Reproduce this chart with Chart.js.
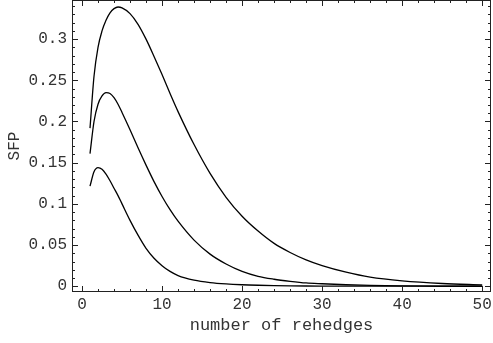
<!DOCTYPE html>
<html>
<head>
<meta charset="utf-8">
<script src="https://cdn.jsdelivr.net/npm/chart.js@4.4.1/dist/chart.umd.min.js"></script>
<style>
  body { margin: 0; background: #fff; }
  #wrap { width: 493px; height: 343px; }
</style>
</head>
<body>
<div id="wrap"><canvas id="sfpChart" width="493" height="343"></canvas></div>
<script>
// number of rehedges (x) and SFP
const rehedges = [1, 1.5, 2, 2.5, 3, 3.5, 4, 4.5, 5, 6, 7, 8, 9, 10, 11, 12, 14, 16, 18, 20, 22, 24, 26, 28, 30, 33, 36, 40, 45, 50];
const sfpHigh = [0.192, 0.255, 0.290, 0.310, 0.323, 0.332, 0.337, 0.339, 0.338, 0.331, 0.318, 0.300, 0.279, 0.257, 0.234, 0.212, 0.172, 0.137, 0.108, 0.085, 0.067, 0.052, 0.041, 0.032, 0.025, 0.017, 0.011, 0.0065, 0.0033, 0.0016];
const sfpMid = [0.161, 0.200, 0.221, 0.231, 0.235, 0.234, 0.229, 0.221, 0.211, 0.190, 0.168, 0.147, 0.127, 0.109, 0.093, 0.079, 0.056, 0.039, 0.027, 0.018, 0.012, 0.0085, 0.006, 0.004, 0.003, 0.0018, 0.001, 0.0005, 0.0002, 0.0001];
const sfpLow = [0.1215, 0.139, 0.144, 0.142, 0.136, 0.128, 0.119, 0.110, 0.100, 0.080, 0.062, 0.046, 0.034, 0.025, 0.018, 0.013, 0.0075, 0.0045, 0.0028, 0.0018, 0.0012, 0.0008, 0.0005, 0.0003, 0.0002, 0.0001, 0.00005, 0.00002, 0.00001, 0];

const xTicks = [0, 10, 20, 30, 40, 50];
const xTickLabels = ['0', '10', '20', '30', '40', '50'];
const yTicks = [0, 0.05, 0.1, 0.15, 0.2, 0.25, 0.3];
const yTickLabels = ['0', '0.05', '0.1', '0.15', '0.2', '0.25', '0.3'];

const monoFont = '"Liberation Mono", "Courier New", monospace';
const inkColor = '#222';

const toPoints = (vals) => rehedges.map((x, i) => ({ x: x, y: vals[i] }));

// Mathematica style frame with inward ticks on all four sides
const frameTicks = {
    id: 'frameTicks',
    afterDatasetsDraw(chart) {
        const { ctx, chartArea: a, scales: { x, y } } = chart;
        ctx.save();
        ctx.strokeStyle = inkColor;
        ctx.lineWidth = 1;
        ctx.beginPath();
        for (let i = 0; i <= 50; i += 2) {
            const px = Math.round(x.getPixelForValue(i)) + 0.5;
            const len = i % 10 === 0 ? 6 : 3;
            ctx.moveTo(px, a.bottom); ctx.lineTo(px, a.bottom - len);
            ctx.moveTo(px, a.top); ctx.lineTo(px, a.top + len);
        }
        for (let i = 0; i <= 34; i++) {
            const py = Math.round(y.getPixelForValue(i / 100)) + 0.5;
            const len = i % 5 === 0 ? 6 : 3;
            ctx.moveTo(a.left, py); ctx.lineTo(a.left + len, py);
            ctx.moveTo(a.right, py); ctx.lineTo(a.right - len, py);
        }
        ctx.stroke();
        ctx.strokeRect(a.left + 0.5, a.top + 0.5, a.width - 1, a.height - 1);
        ctx.restore();
    }
};

const lineStyle = {
    borderColor: '#000',
    borderWidth: 1.3,
    pointRadius: 0,
    fill: false,
    cubicInterpolationMode: 'monotone'
};

const ctx = document.getElementById('sfpChart').getContext('2d');
new Chart(ctx, {
    type: 'line',
    data: {
        datasets: [
            Object.assign({ label: 'high', data: toPoints(sfpHigh) }, lineStyle),
            Object.assign({ label: 'mid', data: toPoints(sfpMid) }, lineStyle),
            Object.assign({ label: 'low', data: toPoints(sfpLow) }, lineStyle)
        ]
    },
    options: {
        responsive: false,
        animation: false,
        layout: { padding: { top: 0, right: 2, left: 0, bottom: 0 } },
        plugins: {
            legend: { display: false },
            tooltip: { enabled: false }
        },
        scales: {
            x: {
                type: 'linear',
                min: -1.25,
                max: 51.1,
                afterFit: (s) => { s.height = 51; s.paddingLeft = 0; s.paddingRight = 0; },
                afterBuildTicks: (s) => { s.ticks = xTicks.map(v => ({ value: v })); },
                grid: { display: true, drawOnChartArea: false, drawTicks: false },
                border: { display: false },
                ticks: {
                    padding: 3,
                    color: '#333',
                    font: { family: monoFont, size: 16 },
                    callback: (v) => xTickLabels[xTicks.indexOf(v)]
                },
                title: {
                    display: true,
                    text: 'number of rehedges',
                    color: '#333',
                    font: { family: monoFont, size: 17 },
                    padding: { top: 0, bottom: 7 }
                }
            },
            y: {
                min: -0.007,
                max: 0.3475,
                afterFit: (s) => { s.width = 72; s.paddingTop = 0; s.paddingBottom = 0; },
                afterBuildTicks: (s) => { s.ticks = yTicks.map(v => ({ value: v })); },
                grid: { display: true, drawOnChartArea: false, drawTicks: false },
                border: { display: false },
                ticks: {
                    padding: 5,
                    color: '#333',
                    font: { family: monoFont, size: 16 },
                    callback: (v) => yTickLabels[yTicks.indexOf(v)]
                },
                title: {
                    display: true,
                    text: 'SFP',
                    color: '#333',
                    font: { family: monoFont, size: 16 },
                    padding: { top: 5, bottom: 0 }
                }
            }
        }
    },
    plugins: [frameTicks]
});
</script>
</body>
</html>
